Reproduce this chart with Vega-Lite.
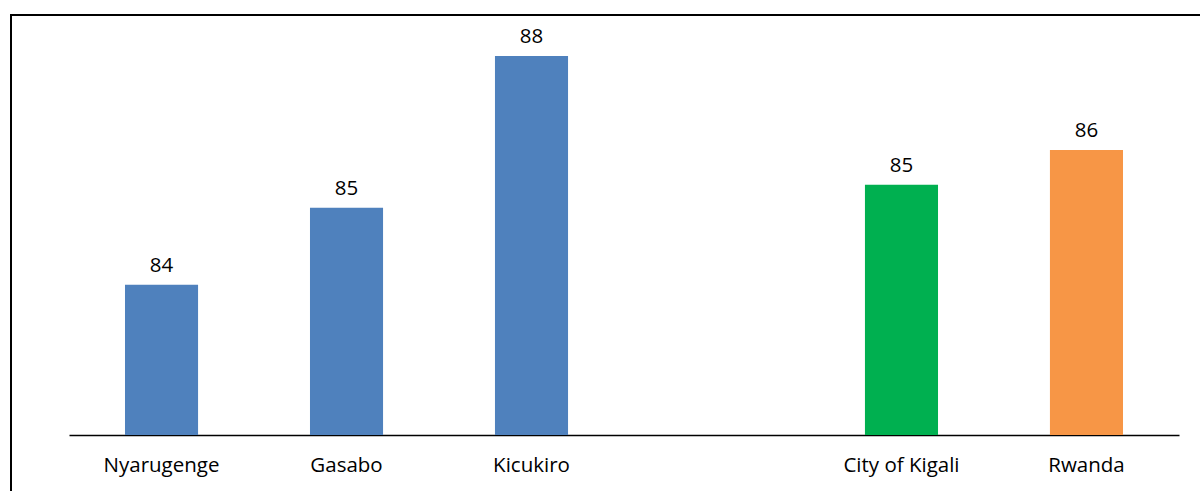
{
  "$schema": "https://vega.github.io/schema/vega-lite/v6.json",
  "width": 1200,
  "height": 490,
  "autosize": {"type": "none"},
  "padding": {"left": 11, "top": 15, "right": 0, "bottom": 0},
  "background": "white",
  "config": {
    "view": {"stroke": "black", "strokeWidth": 2},
    "font": "Open Sans"
  },
  "data": {
    "values": [
      {"area": "Nyarugenge", "level": "District", "value": 83.63},
      {"area": "Gasabo", "level": "District", "value": 85.03},
      {"area": "Kicukiro", "level": "District", "value": 87.79},
      {"area": "City of Kigali", "level": "City", "value": 85.45},
      {"area": "Rwanda", "level": "National", "value": 86.08}
    ]
  },
  "encoding": {
    "x": {
      "field": "area",
      "type": "nominal",
      "sort": null,
      "scale": {
        "domain": ["Nyarugenge", "Gasabo", "Kicukiro", " ", "City of Kigali", "Rwanda"],
        "range": [58, 1168],
        "paddingInner": 0.605,
        "paddingOuter": 0.3027
      },
      "axis": {
        "title": null,
        "offset": -70,
        "domainColor": "black",
        "domainWidth": 1.5,
        "ticks": false,
        "labelAngle": 0,
        "labelFontSize": 20.5,
        "labelColor": "black",
        "labelPadding": 20,
        "labelFont": "Open Sans"
      }
    },
    "y": {
      "field": "value",
      "type": "quantitative",
      "scale": {"domain": [80.9, 88.536], "range": [420, 0], "zero": false, "nice": false},
      "axis": null
    }
  },
  "layer": [
    {
      "mark": {"type": "bar", "clip": false},
      "encoding": {
        "y2": {"datum": 80.9},
        "color": {
          "field": "level",
          "type": "nominal",
          "scale": {"domain": ["District", "City", "National"], "range": ["#4F81BD", "#00B050", "#F79646"]},
          "legend": null
        }
      }
    },
    {
      "mark": {"type": "text", "baseline": "alphabetic", "dy": -13, "fontSize": 20.5, "color": "black", "font": "Open Sans"},
      "encoding": {
        "text": {"field": "value", "type": "quantitative", "format": ".0f"}
      }
    }
  ]
}
